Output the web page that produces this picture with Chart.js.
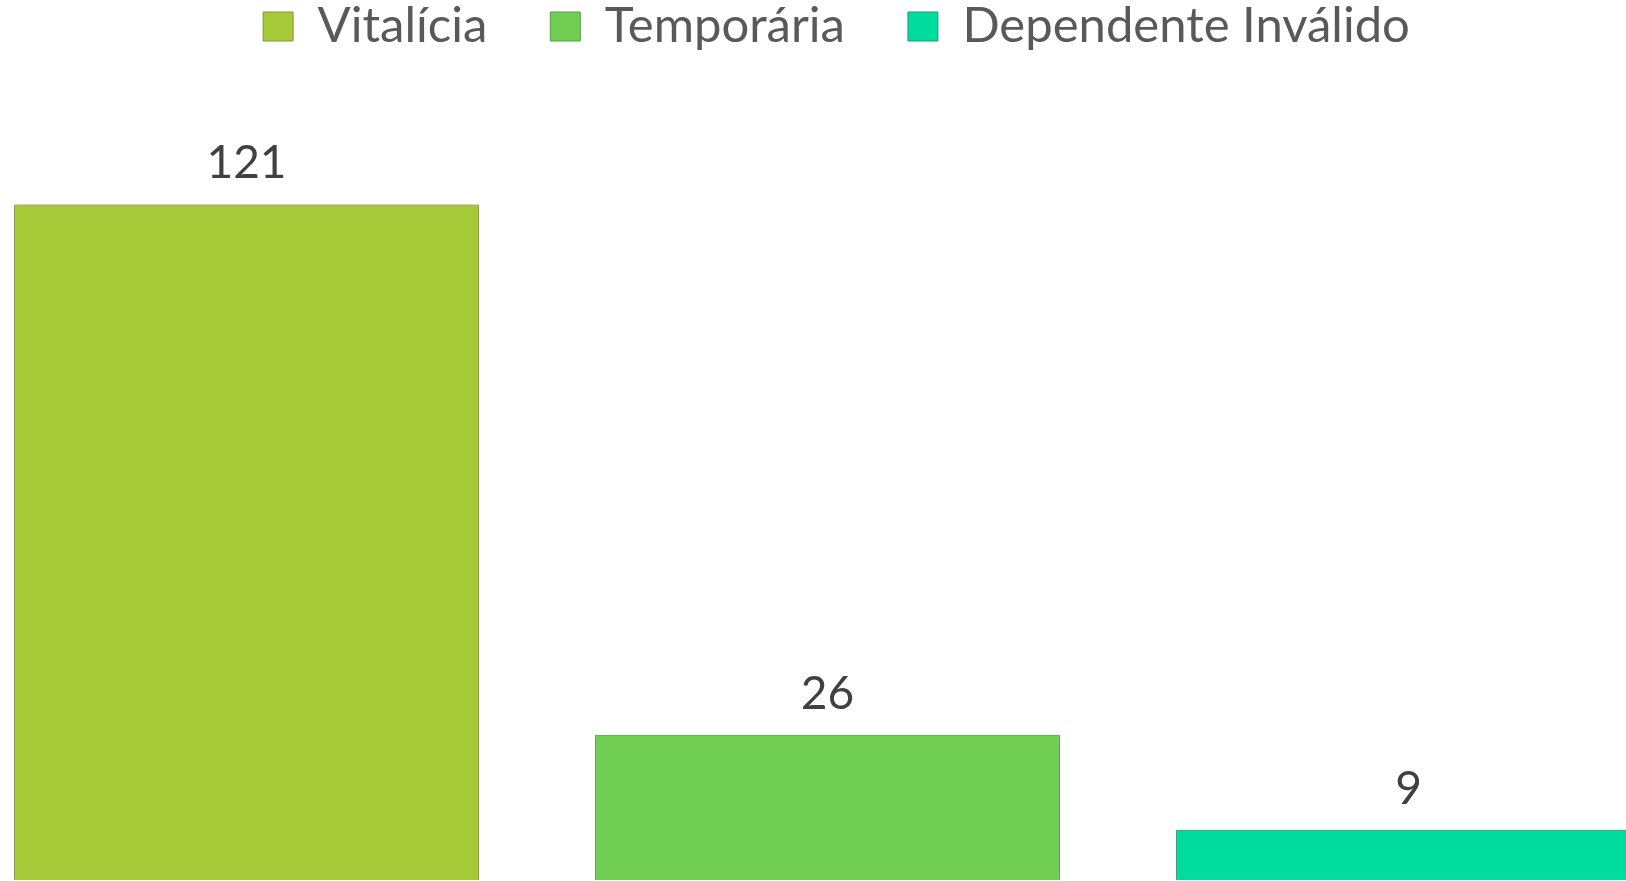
<!DOCTYPE html>
<html>
<head>
<meta charset="utf-8">
<script src="https://cdn.jsdelivr.net/npm/chart.js@4.4.1/dist/chart.umd.min.js"></script>
<style>
    html, body { margin: 0; padding: 0; background: #ffffff; overflow: hidden; }
    #wrap { position: absolute; left: -44px; top: 0; width: 1761px; height: 881px; }
</style>
</head>
<body>
<div id="wrap"><canvas id="grafico"></canvas></div>
<script>
// dados do gráfico
const categorias = ['Vitalícia', 'Temporária', 'Dependente Inválido'];
const valores = [121, 26, 9];

const cores = ['#a6c937', '#70cf52', '#00dc9e'];
const bordas = ['#809c2e', '#5a9c46', '#17a07a'];

// sombra suave nas barras
const sombraPlugin = {
    id: 'sombra',
    beforeDatasetsDraw(chart) {
        const ctx = chart.ctx;
        ctx.save();
        ctx.shadowColor = 'rgba(0, 0, 0, 0.28)';
        ctx.shadowBlur = 6;
        ctx.shadowOffsetX = 0;
        ctx.shadowOffsetY = 0;
    },
    afterDatasetsDraw(chart) {
        chart.ctx.restore();
    }
};

// rótulos de valor acima das barras
const rotulosPlugin = {
    id: 'rotulos',
    afterDatasetsDraw(chart) {
        const ctx = chart.ctx;
        ctx.save();
        ctx.font = '46px Lato';
        ctx.fillStyle = '#404040';
        ctx.textAlign = 'center';
        ctx.textBaseline = 'alphabetic';
        chart.data.datasets.forEach((ds, i) => {
            const meta = chart.getDatasetMeta(i);
            meta.data.forEach((bar, j) => {
                const v = ds.data[j];
                if (v === null || v === undefined) return;
                ctx.fillText(String(v), bar.x, bar.y - 26);
            });
        });
        ctx.restore();
    }
};

new Chart(document.getElementById('grafico'), {
    type: 'bar',
    data: {
        labels: categorias,
        datasets: categorias.map((nome, i) => ({
            label: nome,
            data: valores.map((v, j) => (j === i ? v : null)),
            backgroundColor: cores[i],
            borderColor: bordas[i],
            borderWidth: 1,
            grouped: false,
            categoryPercentage: 1,
            barPercentage: 0.8
        }))
    },
    options: {
        responsive: true,
        maintainAspectRatio: false,
        animation: false,
        layout: { padding: { top: -61, bottom: 1, left: 0, right: 0 } },
        plugins: {
            tooltip: { enabled: false },
            legend: {
                position: 'top',
                labels: {
                    color: '#595959',
                    font: { family: 'Lato', size: 49 },
                    boxWidth: 30,
                    boxHeight: 29,
                    padding: 63
                }
            }
        },
        scales: {
            x: { display: false },
            y: {
                position: 'right',
                min: 0,
                max: 146.7,
                ticks: { display: false },
                grid: { display: false },
                border: { display: false },
                afterFit(scale) { scale.width = 18; }
            }
        }
    },
    plugins: [sombraPlugin, rotulosPlugin]
});
</script>
</body>
</html>
